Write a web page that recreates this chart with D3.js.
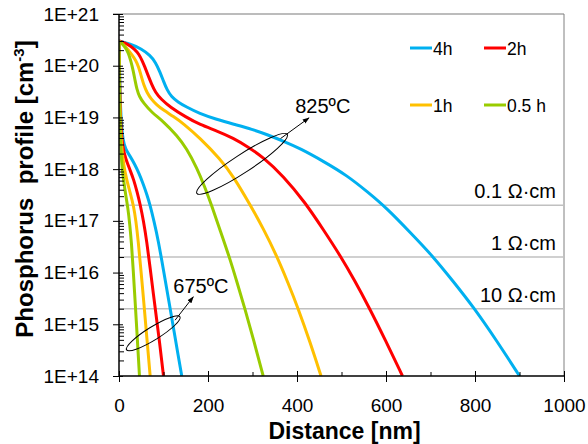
<!DOCTYPE html>
<html>
<head>
<meta charset="utf-8">
<script src="https://cdn.jsdelivr.net/npm/d3@7"></script>
<style>
  html, body { margin: 0; padding: 0; background: #fff; }
  svg { display: block; font-family: Arial, "Liberation Sans", sans-serif; }
</style>
</head>
<body>
<svg id="chart" width="588" height="444"></svg>
<script>
// Phosphorus diffusion profiles: depth (nm) vs concentration (cm^-3)

// 825 ºC anneals
const d825_4h  = [0, 25, 50, 70, 82, 92, 100, 108, 118, 132, 152, 180, 220, 257, 300, 332, 370, 407, 460, 512, 560, 601, 654, 706, 751, 796, 849, 900];
const c825_4h  = [3.0e20, 2.63e20, 2.14e20, 1.58e20, 1.17e20, 7.59e19, 5.01e19, 3.39e19, 2.51e19, 2.00e19, 1.58e19, 1.20e19, 9.12e18, 7.41e18, 5.89e18, 4.68e18, 3.47e18, 2.51e18, 1.41e18, 7.59e17, 3.55e17, 1.78e17, 6.03e16, 2.04e16, 6.76e15, 2.19e15, 4.79e14, 1.0e14];
const d825_2h  = [0, 20, 35, 45, 52, 58, 65, 73, 82, 95, 115, 150, 182, 220, 257, 290, 324, 369, 418, 460, 497, 530, 560, 600, 637];
const c825_2h  = [3.0e20, 2.63e20, 2.09e20, 1.66e20, 1.26e20, 9.55e19, 6.61e19, 4.47e19, 3.02e19, 2.24e19, 1.58e19, 1.02e19, 7.24e18, 5.50e18, 3.98e18, 2.69e18, 1.70e18, 7.41e17, 2.29e17, 6.61e16, 2.14e16, 6.92e15, 2.29e15, 4.68e14, 1.0e14];
const d825_1h  = [0, 12, 21, 30, 38, 44, 50, 56, 63, 72, 85, 100, 122, 145, 182, 227, 257, 294, 325, 354, 380, 402, 430, 454];
const c825_1h  = [3.0e20, 2.51e20, 2.00e20, 1.58e20, 1.26e20, 9.55e19, 6.31e19, 4.17e19, 3.02e19, 2.29e19, 1.74e19, 1.38e19, 1.05e19, 7.59e18, 3.98e18, 1.58e18, 7.24e17, 2.09e17, 6.92e16, 2.14e16, 6.31e15, 2.09e15, 4.37e14, 1.0e14];
const d825_05h = [0, 8, 15, 21, 27, 32, 36, 40, 46, 55, 73, 100, 130, 152, 175, 193, 208, 228, 248, 265, 283, 304, 324];
const c825_05h = [3.0e20, 2.63e20, 2.19e20, 1.78e20, 1.20e20, 7.94e19, 5.25e19, 3.55e19, 2.51e19, 1.91e19, 1.26e19, 8.32e18, 4.47e18, 2.51e18, 1.05e18, 4.47e17, 2.00e17, 6.31e16, 2.00e16, 6.61e15, 2.00e15, 4.47e14, 1.0e14];

// 675 ºC anneals
const d675_4h  = [0, 1, 2.5, 5, 9, 15, 25, 35, 45, 55, 63, 70, 79, 88, 100, 112, 124, 133, 141];
const c675_4h  = [3.0e20, 1.00e20, 2.51e19, 7.94e18, 3.55e18, 2.40e18, 1.78e18, 1.26e18, 8.32e17, 5.01e17, 3.16e17, 2.00e17, 9.55e16, 4.27e16, 1.12e16, 2.82e15, 7.08e14, 2.51e14, 1.0e14];
const d675_2h  = [0, 1, 2.5, 5, 9, 15, 25, 33, 41, 48, 55, 62, 72, 81, 91, 100];
const c675_2h  = [3.0e20, 7.08e19, 1.58e19, 5.01e18, 2.51e18, 1.58e18, 9.55e17, 6.31e17, 3.55e17, 2.00e17, 1.00e17, 4.27e16, 8.91e15, 2.14e15, 4.68e14, 1.0e14];
const d675_1h  = [0, 1, 2.5, 5, 10, 17, 25, 33, 38, 43, 50, 56, 63, 70];
const c675_1h  = [3.0e20, 5.01e19, 1.00e19, 3.16e18, 1.26e18, 6.31e17, 3.55e17, 1.91e17, 1.00e17, 4.27e16, 9.55e15, 2.51e15, 5.01e14, 1.0e14];
const d675_05h = [0, 0.7, 1.5, 3, 6, 10, 15, 20, 24, 28, 32, 37, 41, 46];
const c675_05h = [3.0e20, 6.31e19, 1.58e19, 3.98e18, 1.26e18, 6.31e17, 3.16e17, 1.78e17, 8.91e16, 3.80e16, 1.12e16, 2.14e15, 5.62e14, 1.0e14];

const seriesNames  = ["4h", "2h", "1h", "0.5 h"];
const seriesColors = ["#00B0F0", "#FF0000", "#FFC000", "#99CC00"];

// Resistivity reference levels
const rhoLevels = [2e17, 2e16, 2e15];
const rhoLabels = ["0.1 \u03A9\u00B7cm", "1 \u03A9\u00B7cm", "10 \u03A9\u00B7cm"];

// Axis ticks
const xTicks      = [0, 200, 400, 600, 800, 1000];
const xMinorTicks = [100, 300, 500, 700, 900];
const yTicks      = [1e14, 1e15, 1e16, 1e17, 1e18, 1e19, 1e20, 1e21];
const yTickLabels = ["1E+14", "1E+15", "1E+16", "1E+17", "1E+18", "1E+19", "1E+20", "1E+21"];

// Temperature annotations: ellipse ends, arrow and label anchors (data units)
const ann825 = { e1: [175, 3.4e17], e2: [378, 4.7e18], a1: [363, 3.9e18], a2: [427, 9.8e18], t: [396, 1.2e19], label: "825ºC" };
const ann675 = { e1: [17, 3.2e14], e2: [137, 1.4e15], a1: [126, 1.2e15], a2: [167, 3.4e15], t: [122, 4.1e15], label: "675ºC" };

// ---------------------------------------------------------------------------
const svg = d3.select("#chart");
const m = { left: 119, right: 564, top: 14, bottom: 376 };

const x = d3.scaleLinear().domain([0, 1000]).range([m.left, m.right]);
const y = d3.scaleLog().domain([1e14, 1e21]).range([m.bottom, m.top]);

// clip region for the curves
svg.append("clipPath").attr("id", "plotclip")
  .append("rect")
  .attr("x", m.left).attr("y", m.top - 2)
  .attr("width", m.right - m.left).attr("height", m.bottom - m.top + 2);

// plot frame: top and right
svg.append("line").attr("x1", m.left - 6).attr("x2", m.right).attr("y1", m.top).attr("y2", m.top)
  .attr("stroke", "#A6A6A6").attr("stroke-width", 1.5);
svg.append("line").attr("x1", m.right).attr("x2", m.right).attr("y1", m.top).attr("y2", m.bottom)
  .attr("stroke", "#808080").attr("stroke-width", 1);

// resistivity lines
rhoLevels.forEach((v, i) => {
  svg.append("line")
    .attr("x1", m.left).attr("x2", m.right)
    .attr("y1", y(v)).attr("y2", y(v))
    .attr("stroke", "#C0C0C0").attr("stroke-width", 1.5);
  svg.append("text")
    .attr("x", x(982)).attr("y", y(v) - 7)
    .attr("text-anchor", "end")
    .attr("font-size", 20).attr("fill", "#000")
    .text(rhoLabels[i]);
});

// curves
const line = d3.line()
  .x(d => x(d[0])).y(d => y(d[1]))
  .curve(d3.curveBasis);

const groups = [
  [d825_4h, c825_4h, 0], [d825_2h, c825_2h, 1], [d825_1h, c825_1h, 2], [d825_05h, c825_05h, 3],
  [d675_4h, c675_4h, 0], [d675_2h, c675_2h, 1], [d675_1h, c675_1h, 2], [d675_05h, c675_05h, 3]
];
const curveLayer = svg.append("g").attr("clip-path", "url(#plotclip)");
groups.forEach(([ds, cs, k]) => {
  curveLayer.append("path")
    .datum(ds.map((d, i) => [d, cs[i]]))
    .attr("d", line)
    .attr("fill", "none")
    .attr("stroke", seriesColors[k])
    .attr("stroke-width", 3)
    .attr("stroke-linejoin", "round");
});

// axes
const yAxisOut = d3.axisLeft(y).tickValues(yTicks).tickSize(6).tickPadding(14)
  .tickFormat((d, i) => yTickLabels[i]);
const gy = svg.append("g").attr("transform", `translate(${m.left},0)`).call(yAxisOut);
gy.selectAll("text").attr("font-size", 19).attr("font-family", "Arial, 'Liberation Sans', sans-serif").attr("fill", "#000");
gy.select(".domain").remove();

const yMinor = [];
for (let e = 14; e < 21; e++) for (let k = 2; k <= 9; k++) yMinor.push(k * Math.pow(10, e));
const gyIn = svg.append("g").attr("transform", `translate(${m.left},0)`)
  .call(d3.axisLeft(y).tickValues(yTicks).tickSize(-4).tickFormat(""));
gyIn.select(".domain").remove();
const gyMinor = svg.append("g").attr("transform", `translate(${m.left},0)`)
  .call(d3.axisLeft(y).tickValues(yMinor).tickSize(-5).tickFormat(""));
gyMinor.select(".domain").remove();

const gx = svg.append("g").attr("transform", `translate(0,${m.bottom})`)
  .call(d3.axisBottom(x).tickValues(xTicks).tickSize(6).tickFormat(d3.format("d")));
gx.select(".domain").remove();
gx.selectAll("text").attr("font-size", 19).attr("font-family", "Arial, 'Liberation Sans', sans-serif")
  .attr("fill", "#000").attr("y", 35.5).attr("dy", 0);
const gxIn = svg.append("g").attr("transform", `translate(0,${m.bottom})`)
  .call(d3.axisBottom(x).tickValues(xTicks).tickSize(-5).tickFormat(""));
gxIn.select(".domain").remove();
const gxMinor = svg.append("g").attr("transform", `translate(0,${m.bottom})`)
  .call(d3.axisBottom(x).tickValues(xMinorTicks).tickSize(-4).tickFormat(""));
gxMinor.select(".domain").remove();

svg.selectAll(".tick line").attr("stroke", "#000").attr("stroke-width", 1);

// axis lines
svg.append("line").attr("x1", m.left).attr("x2", m.left).attr("y1", m.top).attr("y2", m.bottom)
  .attr("stroke", "#000").attr("stroke-width", 1.5);
svg.append("line").attr("x1", m.left).attr("x2", m.right).attr("y1", m.bottom).attr("y2", m.bottom)
  .attr("stroke", "#000").attr("stroke-width", 1.5);

// axis titles
svg.append("text")
  .attr("x", 344.5).attr("y", 439)
  .attr("text-anchor", "middle")
  .attr("font-size", 23).attr("font-weight", "bold")
  .text("Distance [nm]");

const yt = svg.append("text")
  .attr("transform", "translate(33,189) rotate(-90)")
  .attr("text-anchor", "middle")
  .attr("font-size", 24).attr("font-weight", "bold")
  .style("white-space", "pre");
yt.append("tspan").text("Phosphorus  profile [cm");
yt.append("tspan").attr("font-size", 15).attr("dy", -9).text("-3");
yt.append("tspan").attr("dy", 9).text("]");

// legend
const legendPos = [[410, 48], [484, 48], [410, 105], [484, 105]];
seriesNames.forEach((name, i) => {
  const [lx, ly] = legendPos[i];
  svg.append("line").attr("x1", lx).attr("x2", lx + 22).attr("y1", ly).attr("y2", ly)
    .attr("stroke", seriesColors[i]).attr("stroke-width", 3);
  svg.append("text").attr("x", lx + 23).attr("y", ly + 6.5)
    .attr("font-size", 17.5).text(name);
});

// temperature annotations
svg.append("defs").append("marker")
  .attr("id", "arrow").attr("viewBox", "0 0 10 10")
  .attr("refX", 9).attr("refY", 5)
  .attr("markerWidth", 7).attr("markerHeight", 7)
  .attr("markerUnits", "userSpaceOnUse")
  .attr("orient", "auto")
  .append("path").attr("d", "M0,1.5 L10,5 L0,8.5 Z").attr("fill", "#000");

function annotate(a, ry) {
  const p1 = [x(a.e1[0]), y(a.e1[1])];
  const p2 = [x(a.e2[0]), y(a.e2[1])];
  const cx = (p1[0] + p2[0]) / 2, cy = (p1[1] + p2[1]) / 2;
  const rx = Math.hypot(p2[0] - p1[0], p2[1] - p1[1]) / 2;
  const ang = Math.atan2(p2[1] - p1[1], p2[0] - p1[0]) * 180 / Math.PI;
  svg.append("ellipse")
    .attr("cx", cx).attr("cy", cy).attr("rx", rx).attr("ry", ry)
    .attr("transform", `rotate(${ang},${cx},${cy})`)
    .attr("fill", "none").attr("stroke", "#000").attr("stroke-width", 1);
  svg.append("line")
    .attr("x1", x(a.a1[0])).attr("y1", y(a.a1[1]))
    .attr("x2", x(a.a2[0])).attr("y2", y(a.a2[1]))
    .attr("stroke", "#000").attr("stroke-width", 1)
    .attr("marker-end", "url(#arrow)");
  svg.append("text")
    .attr("x", x(a.t[0])).attr("y", y(a.t[1]))
    .attr("font-size", 20).text(a.label);
}
annotate(ann825, 9);
annotate(ann675, 6.5);
</script>
</body>
</html>
